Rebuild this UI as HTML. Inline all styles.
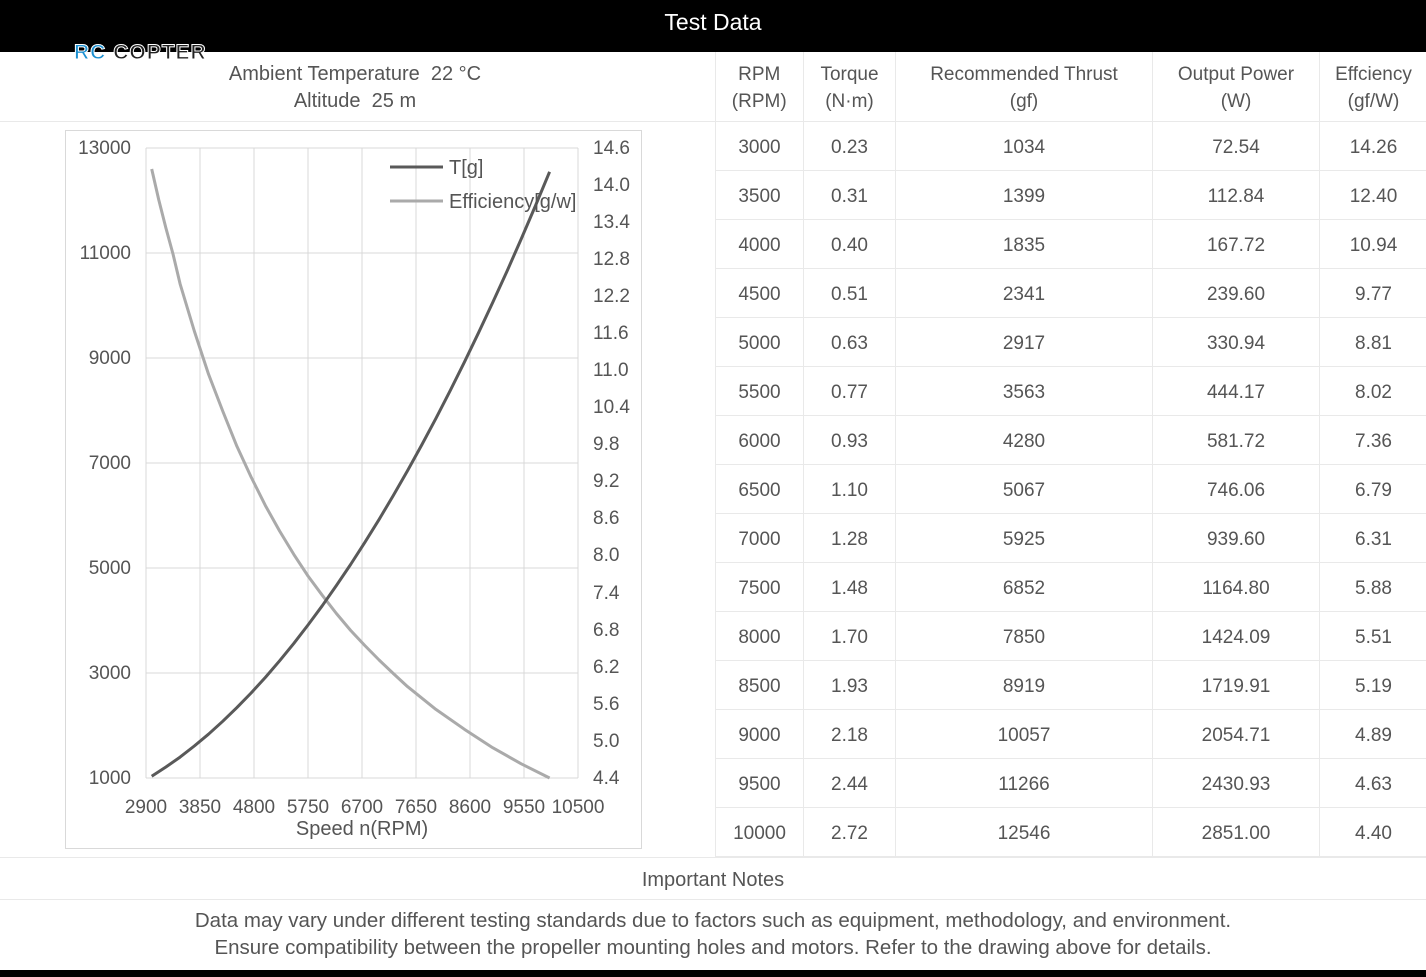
<!DOCTYPE html>
<html><head><meta charset="utf-8"><style>
body{margin:0;width:1426px;height:977px;position:relative;background:#fff;font-family:"Liberation Sans",sans-serif;color:#555;overflow:hidden}
.abs{position:absolute}
table{border-collapse:collapse;table-layout:fixed}
td{border:1px solid #e9e9e9;text-align:center;font-size:19px;color:#555;padding:4px 0 0 0;height:44px}
tr.h td{height:67px;line-height:27px;padding-top:2px}
</style></head><body>
<div class="abs" style="left:0;top:0;width:1426px;height:52px;background:#000;color:#fff;font-size:23px;text-align:center;line-height:44px">Test Data</div>
<div class="abs" style="left:74px;top:40px;font-size:21px;font-weight:bold;letter-spacing:1px;line-height:26px"><span style="color:#1a8fd0;-webkit-text-stroke:1px #fff">RC</span> <span style="color:#222;-webkit-text-stroke:1px #fff">COPTER</span></div>
<div class="abs" style="left:0;top:61px;width:710px;text-align:center;font-size:20px;line-height:27px">Ambient Temperature&nbsp; 22 °C<br>Altitude&nbsp; 25 m</div>
<div class="abs" style="left:0;top:121px;width:715px;border-top:1px solid #e9e9e9"></div>
<div class="abs" style="left:715px;top:52px;height:805px;border-left:1px solid #e9e9e9"></div>
<svg class="abs" style="left:0;top:0" width="715" height="857">
<rect x="65.5" y="130.5" width="576" height="718" fill="none" stroke="#d9d9d9"/>
<g stroke="#d9d9d9" stroke-width="1">
<line x1="146" y1="148" x2="578" y2="148"/><line x1="146" y1="253" x2="578" y2="253"/><line x1="146" y1="358" x2="578" y2="358"/><line x1="146" y1="463" x2="578" y2="463"/><line x1="146" y1="568" x2="578" y2="568"/><line x1="146" y1="673" x2="578" y2="673"/><line x1="146" y1="778" x2="578" y2="778"/>
<line x1="146" y1="148" x2="146" y2="778"/><line x1="200" y1="148" x2="200" y2="778"/><line x1="254" y1="148" x2="254" y2="778"/><line x1="308" y1="148" x2="308" y2="778"/><line x1="362" y1="148" x2="362" y2="778"/><line x1="416" y1="148" x2="416" y2="778"/><line x1="470" y1="148" x2="470" y2="778"/><line x1="524" y1="148" x2="524" y2="778"/><line x1="578" y1="148" x2="578" y2="778"/>
</g>
<g font-size="19" fill="#555" text-anchor="end" dominant-baseline="middle">
<text x="131" y="149">13000</text><text x="131" y="254">11000</text><text x="131" y="359">9000</text><text x="131" y="464">7000</text><text x="131" y="569">5000</text><text x="131" y="674">3000</text><text x="131" y="779">1000</text>
</g>
<g font-size="19" fill="#555" dominant-baseline="middle">
<text x="593" y="149">14.6</text><text x="593" y="186">14.0</text><text x="593" y="223">13.4</text><text x="593" y="260">12.8</text><text x="593" y="297">12.2</text><text x="593" y="334">11.6</text><text x="593" y="371">11.0</text><text x="593" y="408">10.4</text><text x="593" y="445">9.8</text><text x="593" y="482">9.2</text><text x="593" y="519">8.6</text><text x="593" y="556">8.0</text><text x="593" y="594">7.4</text><text x="593" y="631">6.8</text><text x="593" y="668">6.2</text><text x="593" y="705">5.6</text><text x="593" y="742">5.0</text><text x="593" y="779">4.4</text>
</g>
<g font-size="19" fill="#555" text-anchor="middle">
<text x="146" y="813">2900</text><text x="200" y="813">3850</text><text x="254" y="813">4800</text><text x="308" y="813">5750</text><text x="362" y="813">6700</text><text x="416" y="813">7650</text><text x="470" y="813">8600</text><text x="524" y="813">9550</text><text x="578" y="813">10500</text>
<text x="362" y="835" font-size="20">Speed n(RPM)</text>
</g>
<polyline fill="none" stroke="#aaa" stroke-width="3" stroke-linejoin="round" points="151.7,169 158.8,200 165.9,228 173,254 180.1,283.9 194.3,331 208.5,374.1 222.7,411 236.9,446.3 251.1,477 265.4,505.6 279.6,531 293.8,554.4 308,576 322.2,595.2 336.4,613.5 350.6,630.4 364.8,645.5 379.1,660 393.3,673.5 407.5,686.6 435.9,709.4 464.3,729.2 492.7,747.7 521.2,763.8 549.6,778"/>
<polyline fill="none" stroke="#595959" stroke-width="3" stroke-linejoin="round" points="151.7,776.2 165.9,767 180.1,757.1 194.3,746 208.5,734.2 222.7,721.3 236.9,707.6 251.1,693 265.4,677.4 279.6,660.8 293.8,643.4 308,625 322.2,605.8 336.4,585.5 350.6,564.5 364.8,542.4 379.1,519.4 393.3,495.5 407.5,470.8 421.7,445 435.9,418.4 450.1,390.8 464.3,362.3 478.5,332.8 492.7,302.5 507,271.2 521.2,239 535.4,205.9 549.6,171.8"/>
<line x1="390" y1="167" x2="443" y2="167" stroke="#595959" stroke-width="3"/>
<line x1="390" y1="201" x2="443" y2="201" stroke="#aaa" stroke-width="3"/>
<text x="449" y="174" font-size="20" fill="#555">T[g]</text>
<text x="449" y="208" font-size="20" fill="#555">Efficiency[g/w]</text>
</svg>
<table class="abs" style="left:715px;top:52px;width:712px">
<colgroup><col style="width:88px"><col style="width:92px"><col style="width:257px"><col style="width:167px"><col style="width:108px"></colgroup>
<tr class="h"><td style="border-top:none;border-left:none">RPM<br>(RPM)</td><td style="border-top:none">Torque<br>(N·m)</td><td style="border-top:none">Recommended Thrust<br>(gf)</td><td style="border-top:none">Output Power<br>(W)</td><td style="border-top:none">Effciency<br>(gf/W)</td></tr>
<tr><td>3000</td><td>0.23</td><td>1034</td><td>72.54</td><td>14.26</td></tr>
<tr><td>3500</td><td>0.31</td><td>1399</td><td>112.84</td><td>12.40</td></tr>
<tr><td>4000</td><td>0.40</td><td>1835</td><td>167.72</td><td>10.94</td></tr>
<tr><td>4500</td><td>0.51</td><td>2341</td><td>239.60</td><td>9.77</td></tr>
<tr><td>5000</td><td>0.63</td><td>2917</td><td>330.94</td><td>8.81</td></tr>
<tr><td>5500</td><td>0.77</td><td>3563</td><td>444.17</td><td>8.02</td></tr>
<tr><td>6000</td><td>0.93</td><td>4280</td><td>581.72</td><td>7.36</td></tr>
<tr><td>6500</td><td>1.10</td><td>5067</td><td>746.06</td><td>6.79</td></tr>
<tr><td>7000</td><td>1.28</td><td>5925</td><td>939.60</td><td>6.31</td></tr>
<tr><td>7500</td><td>1.48</td><td>6852</td><td>1164.80</td><td>5.88</td></tr>
<tr><td>8000</td><td>1.70</td><td>7850</td><td>1424.09</td><td>5.51</td></tr>
<tr><td>8500</td><td>1.93</td><td>8919</td><td>1719.91</td><td>5.19</td></tr>
<tr><td>9000</td><td>2.18</td><td>10057</td><td>2054.71</td><td>4.89</td></tr>
<tr><td>9500</td><td>2.44</td><td>11266</td><td>2430.93</td><td>4.63</td></tr>
<tr><td>10000</td><td>2.72</td><td>12546</td><td>2851.00</td><td>4.40</td></tr>
</table>
<div class="abs" style="left:0;top:857px;width:1426px;height:41px;border-top:1px solid #e9e9e9;border-bottom:1px solid #e9e9e9;text-align:center;font-size:20px;line-height:44px">Important Notes</div>
<div class="abs" style="left:0;top:907px;width:1426px;text-align:center;font-size:20.5px;line-height:27px">Data may vary under different testing standards due to factors such as equipment, methodology, and environment.<br>Ensure compatibility between the propeller mounting holes and motors. Refer to the drawing above for details.</div>
<div class="abs" style="left:0;top:970px;width:1426px;height:7px;background:#000"></div>
</body></html>
